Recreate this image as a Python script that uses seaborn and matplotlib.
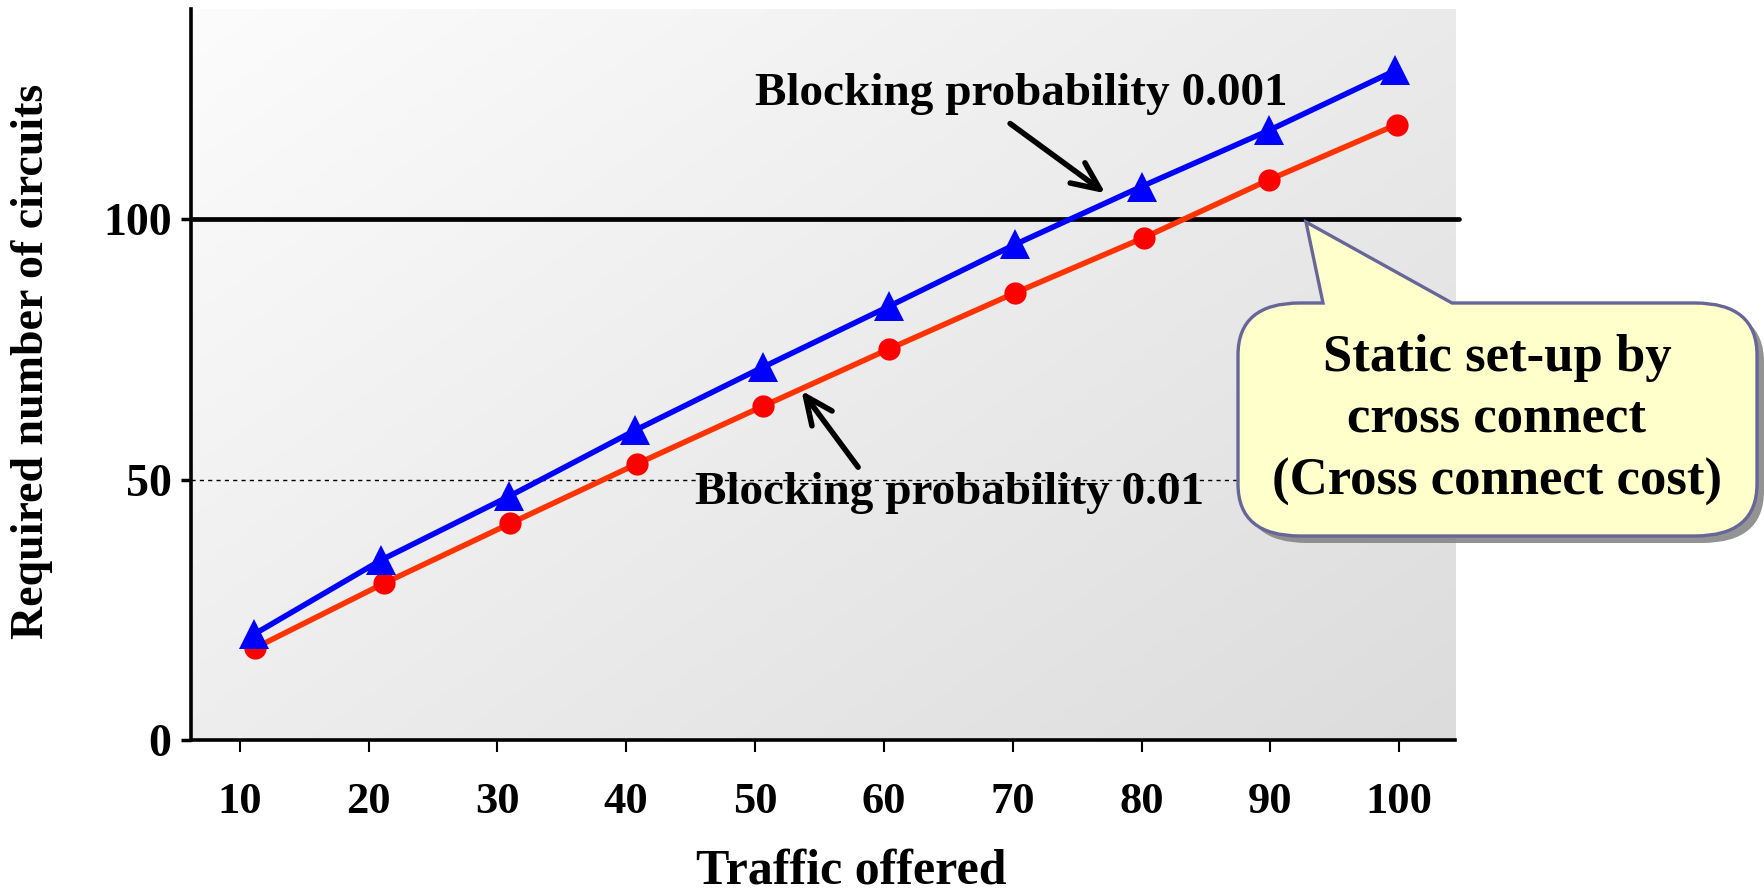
import numpy as np
import pandas as pd
import matplotlib
matplotlib.use("Agg")
import matplotlib.pyplot as plt
import seaborn as sns
from matplotlib.path import Path
from matplotlib.patches import PathPatch
from matplotlib.colors import LinearSegmentedColormap

# Erlang-style dimensioning: circuits needed for a given offered traffic
traffic_p0001 = [11.1, 21.0, 30.9, 40.7, 50.6, 60.4, 70.2, 80.0, 89.9, 99.7]
circuits_p0001 = [20.3, 34.6, 46.8, 59.5, 71.6, 83.3, 95.2, 106.3, 117.1, 128.6]
traffic_p001 = [11.2, 21.2, 31.0, 40.8, 50.6, 60.4, 70.2, 80.2, 89.9, 99.8]
circuits_p001 = [17.7, 30.1, 41.6, 53.0, 64.1, 75.1, 85.9, 96.5, 107.6, 118.2]
x_ticks = [10, 20, 30, 40, 50, 60, 70, 80, 90, 100]
y_ticks = [0, 50, 100]
cross_connect_level = 100
reference_level = 50

df_hi = pd.DataFrame({"traffic": traffic_p0001, "circuits": circuits_p0001})
df_lo = pd.DataFrame({"traffic": traffic_p001, "circuits": circuits_p001})

sns.set_theme(style="white")
plt.rcParams["font.family"] = ["Liberation Serif", "DejaVu Serif"]
plt.rcParams["font.weight"] = "bold"
plt.rcParams["text.color"] = "black"
plt.rcParams["axes.labelcolor"] = "black"
plt.rcParams["xtick.color"] = "black"
plt.rcParams["ytick.color"] = "black"

W, H, DPI = 1765, 892, 100
fig = plt.figure(figsize=(W / DPI, H / DPI), dpi=DPI)
fig.patch.set_facecolor("white")
ax = fig.add_axes([0.1082, 0.1704, 0.7162, 0.8195])

# diagonal light-grey gradient behind the plot
ny, nx = 200, 400
xx, yy = np.meshgrid(np.linspace(0, 1, nx), np.linspace(0, 1, ny))
grad = 0.55 * xx + 0.45 * yy
cmap = LinearSegmentedColormap.from_list("bg", ["#FCFCFC", "#DCDCDC"])
ax.imshow(grad, extent=(0, 1, 0, 1), transform=ax.transAxes, cmap=cmap,
          aspect="auto", origin="upper", zorder=0, interpolation="bilinear")

ax.axhline(cross_connect_level, color="black", lw=3.4, zorder=2, xmax=1.003, clip_on=False)
ax.axhline(reference_level, color="black", lw=1.0, ls=(0, (3, 3)), zorder=1)

sns.lineplot(data=df_lo, x="traffic", y="circuits", ax=ax, color="#FF3300",
             lw=4.0, marker="o", markersize=16, markerfacecolor="#FF0000",
             markeredgecolor="#FF0000", markeredgewidth=0, zorder=3)
sns.lineplot(data=df_hi, x="traffic", y="circuits", ax=ax, color="#0000FF",
             lw=4.0, marker="^", markersize=21, markerfacecolor="#0000FF",
             markeredgecolor="#0000FF", markeredgewidth=0, zorder=3)

ax.set_xlim(6.21, 104.34)
ax.set_ylim(0, 140.4)
ax.set_xticks(x_ticks)
ax.set_yticks(y_ticks)
ax.set_xticklabels([str(v) for v in x_ticks], fontsize=32, fontweight="bold")
ax.set_yticklabels([str(v) for v in y_ticks], fontsize=33, fontweight="bold")
ax.tick_params(axis="x", direction="out", length=8.5, width=1.5, pad=22, colors="black")
ax.tick_params(axis="y", direction="out", length=7, width=2.5, pad=7, colors="black")
ax.tick_params(bottom=True, left=True)

for side in ["top", "right"]:
    ax.spines[side].set_visible(False)
for side in ["left", "bottom"]:
    ax.spines[side].set_color("black")
    ax.spines[side].set_linewidth(2.6)
    ax.spines[side].set_zorder(5)

ax.set_xlabel("")
ax.set_ylabel("")
fig.text(851 / W, 1 - 872 / H, "Traffic offered", fontsize=36, fontweight="bold",
         ha="center", va="center", color="black")
fig.text(32 / W, 1 - 361 / H, "Required number of circuits", fontsize=33,
         fontweight="bold", rotation=90, ha="center", va="center", color="black")

# series annotations with arrows
arrow_style = dict(arrowstyle="->,head_length=1.0,head_width=0.45", lw=4.0,
                   color="black", shrinkA=0, shrinkB=0, mutation_scale=20)
ax.text(70.7, 124.0, "Blocking probability 0.001", fontsize=34, fontweight="bold",
        ha="center", va="center", zorder=4, color="black")
ax.annotate("", xy=(77.2, 105.0), xytext=(69.8, 118.4), arrowprops=arrow_style, zorder=4)
ax.text(65.1, 47.4, "Blocking probability 0.01", fontsize=34, fontweight="bold",
        ha="center", va="center", zorder=4, color="black")
ax.annotate("", xy=(53.6, 67.1), xytext=(58.0, 52.4), arrowprops=arrow_style, zorder=4)

# speech-bubble callout, built in pixel units (y measured from top)
L, R, T, B = 1238, 1757, 303, 536
rx, ry = 62, 52
tail_x1, tail_x2 = 1323, 1452
tip = (1306, 222)


def px(p):
    return ((p[0]) / DPI, (H - p[1]) / DPI)


def bubble_path(dx=0, dy=0):
    pts = [
        (L + rx, T), (tail_x1, T), tip, (tail_x2, T), (R - rx, T),
        (R, T), (R, T + ry),
        (R, B - ry),
        (R, B), (R - rx, B),
        (L + rx, B),
        (L, B), (L, B - ry),
        (L, T + ry),
        (L, T), (L + rx, T),
        (L + rx, T),
    ]
    codes = [Path.MOVETO, Path.LINETO, Path.LINETO, Path.LINETO, Path.LINETO,
             Path.CURVE3, Path.CURVE3,
             Path.LINETO,
             Path.CURVE3, Path.CURVE3,
             Path.LINETO,
             Path.CURVE3, Path.CURVE3,
             Path.LINETO,
             Path.CURVE3, Path.CURVE3,
             Path.CLOSEPOLY]
    verts = [px((x + dx, y + dy)) for x, y in pts]
    return Path(verts, codes)


shadow = PathPatch(bubble_path(7, 7), facecolor="#808080", edgecolor="none",
                   transform=fig.dpi_scale_trans, zorder=10, alpha=0.85)
bubble = PathPatch(bubble_path(), facecolor="#FFFFCC", edgecolor="#666699",
                   lw=2.4, transform=fig.dpi_scale_trans, zorder=11,
                   joinstyle="miter")
fig.add_artist(shadow)
fig.add_artist(bubble)

for text, ypix in [("Static set-up by", 358), ("cross connect", 419),
                   ("(Cross connect cost)", 482)]:
    fig.text(1497 / W, 1 - ypix / H, text, fontsize=38, fontweight="bold",
             ha="center", va="center", zorder=12, color="black")

fig.savefig("out.png", dpi=DPI)
